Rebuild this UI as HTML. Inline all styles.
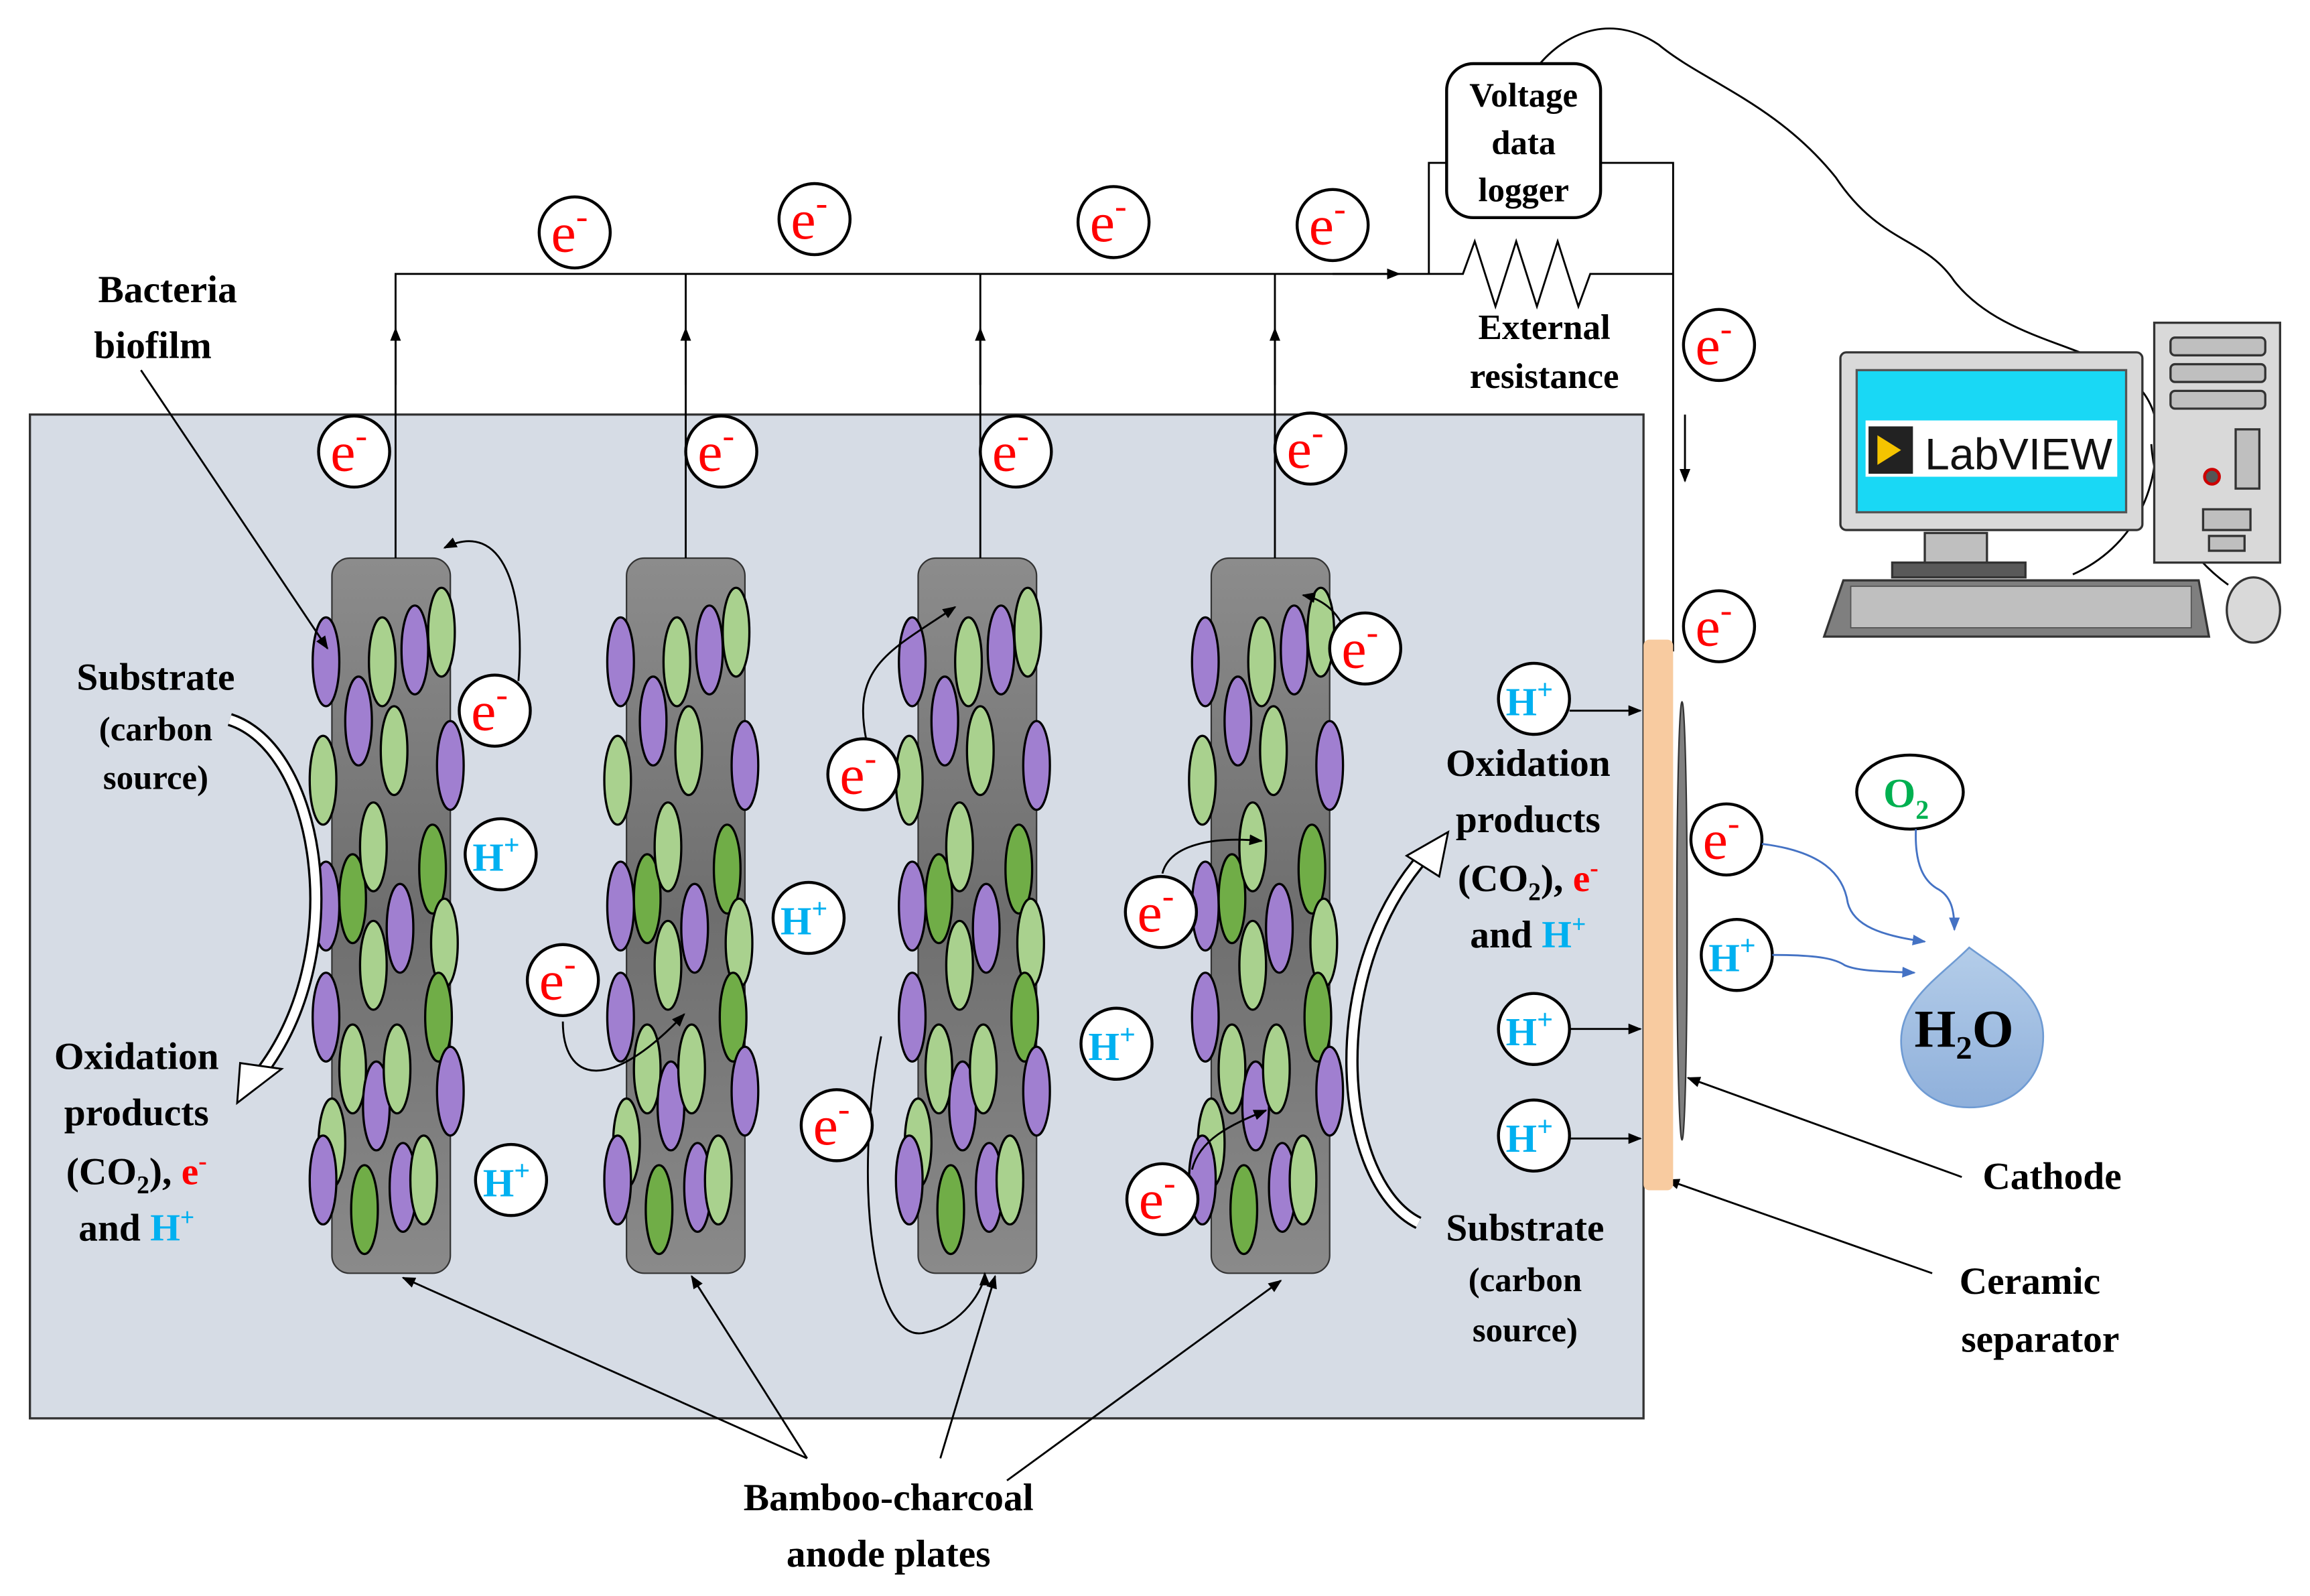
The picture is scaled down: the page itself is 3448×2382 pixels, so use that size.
<!DOCTYPE html>
<html><head><meta charset="utf-8"><style>
html,body{margin:0;padding:0;background:#fff}
svg{display:block}
text{font-family:"Liberation Serif",serif;font-weight:bold}
text.n{font-weight:normal}
text.s{font-family:"Liberation Sans",sans-serif;font-weight:normal}
</style></head><body>
<svg width="3448" height="2382" viewBox="0 0 1560 1078" xmlns="http://www.w3.org/2000/svg">
<defs>
<marker id="ah" viewBox="0 0 10 10" refX="9" refY="5" markerWidth="7" markerHeight="7" orient="auto-start-reverse"><path d="M0,1 L10,5 L0,9 z" fill="#000"/></marker>
<marker id="bh" viewBox="0 0 10 10" refX="9" refY="5" markerWidth="7" markerHeight="7" orient="auto"><path d="M0,1 L10,5 L0,9 z" fill="#4472c4"/></marker>
<linearGradient id="pg" x1="0" y1="0" x2="0" y2="1"><stop offset="0" stop-color="#8c8c8c"/><stop offset="0.5" stop-color="#6e6e6e"/><stop offset="1" stop-color="#8a8a8a"/></linearGradient>
<linearGradient id="dg" x1="0" y1="0" x2="0" y2="1"><stop offset="0" stop-color="#b4cde9"/><stop offset="1" stop-color="#8fb0db"/></linearGradient>
<g id="ell" stroke="#000" stroke-width="1.5">
<ellipse cx="-4" cy="70" rx="9" ry="30" fill="#a07fd0"/>
<ellipse cx="-6" cy="150" rx="9" ry="30" fill="#a9d18e"/>
<ellipse cx="-4" cy="235" rx="9" ry="30" fill="#a07fd0"/>
<ellipse cx="-4" cy="310" rx="9" ry="30" fill="#a07fd0"/>
<ellipse cx="0" cy="395" rx="9" ry="30" fill="#a9d18e"/>
<ellipse cx="-6" cy="420" rx="9" ry="30" fill="#a07fd0"/>
<ellipse cx="14" cy="230" rx="9" ry="30" fill="#70ad47"/>
<ellipse cx="18" cy="110" rx="9" ry="30" fill="#a07fd0"/>
<ellipse cx="14" cy="345" rx="9" ry="30" fill="#a9d18e"/>
<ellipse cx="22" cy="440" rx="9" ry="30" fill="#70ad47"/>
<ellipse cx="34" cy="70" rx="9" ry="30" fill="#a9d18e"/>
<ellipse cx="28" cy="195" rx="9" ry="30" fill="#a9d18e"/>
<ellipse cx="28" cy="275" rx="9" ry="30" fill="#a9d18e"/>
<ellipse cx="30" cy="370" rx="9" ry="30" fill="#a07fd0"/>
<ellipse cx="42" cy="130" rx="9" ry="30" fill="#a9d18e"/>
<ellipse cx="46" cy="250" rx="9" ry="30" fill="#a07fd0"/>
<ellipse cx="44" cy="345" rx="9" ry="30" fill="#a9d18e"/>
<ellipse cx="48" cy="425" rx="9" ry="30" fill="#a07fd0"/>
<ellipse cx="56" cy="62" rx="9" ry="30" fill="#a07fd0"/>
<ellipse cx="68" cy="210" rx="9" ry="30" fill="#70ad47"/>
<ellipse cx="62" cy="420" rx="9" ry="30" fill="#a9d18e"/>
<ellipse cx="74" cy="50" rx="9" ry="30" fill="#a9d18e"/>
<ellipse cx="80" cy="140" rx="9" ry="30" fill="#a07fd0"/>
<ellipse cx="76" cy="260" rx="9" ry="30" fill="#a9d18e"/>
<ellipse cx="72" cy="310" rx="9" ry="30" fill="#70ad47"/>
<ellipse cx="80" cy="360" rx="9" ry="30" fill="#a07fd0"/>
</g>
<g id="plate">
<rect x="0" y="0" width="80" height="483" rx="12" fill="url(#pg)" stroke="#333" stroke-width="1"/>
<use href="#ell"/>
</g>
</defs>

<rect x="20" y="280" width="1090" height="678" fill="#d6dce5" stroke="#333" stroke-width="1.5"/>

<use href="#plate" x="224" y="377"/>
<use href="#plate" x="423" y="377"/>
<use href="#plate" x="620" y="377"/>
<use href="#plate" x="818" y="377"/>

<g stroke="#000" stroke-width="1.3" fill="none">
<path d="M267,377 V185 H966"/>
<path d="M463,377 V185 M662,377 V185 M861,377 V185"/>
<path d="M267,260 V222" marker-end="url(#ah)"/>
<path d="M463,260 V222" marker-end="url(#ah)"/>
<path d="M662,260 V222" marker-end="url(#ah)"/>
<path d="M861,260 V222" marker-end="url(#ah)"/>
<path d="M900,185 H945" marker-end="url(#ah)"/>
<path d="M965,185 V110 H977 M1081,110 H1130 V440"/>
<path d="M966,185 H988 L996,163 L1010,207 L1024,163 L1038,207 L1052,163 L1066,207 L1074,185 H1130"/>
<path d="M1138,280 V325" marker-end="url(#ah)"/>
<path d="M1040,43 C1060,20 1090,10 1120,30 C1150,55 1200,70 1240,120 C1270,165 1300,160 1320,190 C1360,240 1440,230 1455,280 C1462,330 1440,370 1400,388"/>
<path d="M1453,300 C1455,330 1470,370 1505,395"/>
<path d="M350,460 C355,400 340,350 300,370" marker-end="url(#ah)"/>
<path d="M585,500 C575,450 600,440 645,410" marker-end="url(#ah)"/>
<path d="M380,690 C380,730 410,740 462,685" marker-end="url(#ah)"/>
<path d="M785,590 C790,570 820,565 852,568" marker-end="url(#ah)"/>
<path d="M910,430 C905,415 895,405 880,402" marker-end="url(#ah)"/>
<path d="M595,700 C575,800 590,910 625,900 C650,895 665,870 665,860" marker-end="url(#ah)"/>
<path d="M805,790 C810,770 830,760 855,750" marker-end="url(#ah)"/>
<path d="M1060,480 H1108" marker-end="url(#ah)"/>
<path d="M1060,695 H1108" marker-end="url(#ah)"/>
<path d="M1060,769 H1108" marker-end="url(#ah)"/>
<path d="M95,250 L221,438" marker-end="url(#ah)"/>
<path d="M545,985 L272,863" marker-end="url(#ah)"/>
<path d="M545,985 L467,862" marker-end="url(#ah)"/>
<path d="M635,985 L672,862" marker-end="url(#ah)"/>
<path d="M680,1000 L865,865" marker-end="url(#ah)"/>
<path d="M1325,795 L1140,728" marker-end="url(#ah)"/>
<path d="M1305,860 L1126,797" marker-end="url(#ah)"/>
</g>

<!-- white curved arrows -->
<path d="M155,486 C215,505 238,640 178,722" fill="none" stroke="#000" stroke-width="9"/>
<path d="M155,486 C215,505 238,640 178,722" fill="none" stroke="#fff" stroke-width="6"/>
<path d="M162,718 L190,722 L160,745 Z" fill="#fff" stroke="#000" stroke-width="1.3"/>
<path d="M958,826 C905,800 890,660 962,578" fill="none" stroke="#000" stroke-width="9"/>
<path d="M958,826 C905,800 890,660 962,578" fill="none" stroke="#fff" stroke-width="6"/>
<path d="M950,578 L978,562 L972,592 Z" fill="#fff" stroke="#000" stroke-width="1.3"/>

<rect x="1110" y="432" width="20" height="372" rx="4" fill="#f8cba0"/>
<ellipse cx="1136" cy="622" rx="3.5" ry="148" fill="#7f7f7f" stroke="#333" stroke-width="1"/>

<rect x="977" y="43" width="104" height="104" rx="18" fill="#fff" stroke="#000" stroke-width="2"/>
<text x="1029" y="72" font-size="23" text-anchor="middle">Voltage</text>
<text x="1029" y="104" font-size="23" text-anchor="middle">data</text>
<text x="1029" y="136" font-size="23" text-anchor="middle">logger</text>
<text x="1043" y="229" font-size="24" text-anchor="middle">External</text>
<text x="1043" y="262" font-size="24" text-anchor="middle">resistance</text>

<g fill="#fff" stroke="#000" stroke-width="2">
<circle cx="388" cy="157" r="24"/><circle cx="550" cy="148" r="24"/><circle cx="752" cy="150" r="24"/><circle cx="900" cy="152" r="24"/>
<circle cx="239" cy="305" r="24"/><circle cx="487" cy="305" r="24"/><circle cx="686" cy="305" r="24"/><circle cx="885" cy="303" r="24"/>
<circle cx="1161" cy="233" r="24"/><circle cx="1161" cy="423" r="24"/><circle cx="334" cy="480" r="24"/><circle cx="922" cy="438" r="24"/>
<circle cx="583" cy="523" r="24"/><circle cx="380" cy="662" r="24"/><circle cx="784" cy="616" r="24"/><circle cx="565" cy="760" r="24"/>
<circle cx="785" cy="810" r="24"/><circle cx="1166" cy="567" r="24"/>
<circle cx="338" cy="577" r="24"/><circle cx="546" cy="620" r="24"/><circle cx="754" cy="705" r="24"/><circle cx="345" cy="797" r="24"/>
<circle cx="1036" cy="472" r="24"/><circle cx="1036" cy="695" r="24"/><circle cx="1036" cy="767" r="24"/><circle cx="1173" cy="645" r="24"/>
<ellipse cx="1290" cy="535" rx="36" ry="25"/>
</g>
<g fill="#f00" font-size="38">
<text class="n" x="372" y="170">e<tspan font-size="24" dy="-16">-</tspan></text>
<text class="n" x="534" y="161">e<tspan font-size="24" dy="-16">-</tspan></text>
<text class="n" x="736" y="163">e<tspan font-size="24" dy="-16">-</tspan></text>
<text class="n" x="884" y="165">e<tspan font-size="24" dy="-16">-</tspan></text>
<text class="n" x="223" y="318">e<tspan font-size="24" dy="-16">-</tspan></text>
<text class="n" x="471" y="318">e<tspan font-size="24" dy="-16">-</tspan></text>
<text class="n" x="670" y="318">e<tspan font-size="24" dy="-16">-</tspan></text>
<text class="n" x="869" y="316">e<tspan font-size="24" dy="-16">-</tspan></text>
<text class="n" x="1145" y="246">e<tspan font-size="24" dy="-16">-</tspan></text>
<text class="n" x="1145" y="436">e<tspan font-size="24" dy="-16">-</tspan></text>
<text class="n" x="318" y="493">e<tspan font-size="24" dy="-16">-</tspan></text>
<text class="n" x="906" y="451">e<tspan font-size="24" dy="-16">-</tspan></text>
<text class="n" x="567" y="536">e<tspan font-size="24" dy="-16">-</tspan></text>
<text class="n" x="364" y="675">e<tspan font-size="24" dy="-16">-</tspan></text>
<text class="n" x="768" y="629">e<tspan font-size="24" dy="-16">-</tspan></text>
<text class="n" x="549" y="773">e<tspan font-size="24" dy="-16">-</tspan></text>
<text class="n" x="769" y="823">e<tspan font-size="24" dy="-16">-</tspan></text>
<text class="n" x="1150" y="580">e<tspan font-size="24" dy="-16">-</tspan></text>
</g>
<g fill="#00b0f0" font-size="27">
<text x="319" y="588">H<tspan font-size="19" dy="-11">+</tspan></text>
<text x="527" y="631">H<tspan font-size="19" dy="-11">+</tspan></text>
<text x="735" y="716">H<tspan font-size="19" dy="-11">+</tspan></text>
<text x="326" y="808">H<tspan font-size="19" dy="-11">+</tspan></text>
<text x="1017" y="483">H<tspan font-size="19" dy="-11">+</tspan></text>
<text x="1017" y="706">H<tspan font-size="19" dy="-11">+</tspan></text>
<text x="1017" y="778">H<tspan font-size="19" dy="-11">+</tspan></text>
<text x="1154" y="656">H<tspan font-size="19" dy="-11">+</tspan></text>
</g>
<text x="1272" y="545" font-size="28" fill="#00b050">O<tspan font-size="18" dy="8">2</tspan></text>

<g stroke="#4472c4" stroke-width="1.3" fill="none">
<path d="M1190,570 C1230,575 1245,590 1248,610 C1252,625 1270,632 1300,636" marker-end="url(#bh)"/>
<path d="M1197,645 C1230,645 1240,648 1246,652 C1255,656 1270,656 1293,657" marker-end="url(#bh)"/>
<path d="M1294,560 C1293,585 1300,595 1308,600 C1318,605 1320,615 1320,628" marker-end="url(#bh)"/>
</g>
<path d="M1330,640 C1350,655 1380,670 1380,700 C1380,730 1358,748 1330,748 C1302,748 1284,728 1284,703 C1284,675 1310,660 1330,640 Z" fill="url(#dg)" stroke="#6f9bd3" stroke-width="1.2"/>
<text x="1293" y="707" font-size="36">H<tspan font-size="22" dy="8">2</tspan><tspan dy="-8">O</tspan></text>

<g stroke="#333" stroke-width="1.5">
<rect x="1455" y="218" width="85" height="162" fill="#d9d9d9"/>
<rect x="1466" y="228" width="64" height="12" rx="3" fill="#bfbfbf"/>
<rect x="1466" y="246" width="64" height="12" rx="3" fill="#bfbfbf"/>
<rect x="1466" y="264" width="64" height="12" rx="3" fill="#bfbfbf"/>
<rect x="1510" y="290" width="16" height="40" fill="#bfbfbf"/>
<circle cx="1494" cy="322" r="5" fill="#555" stroke="#c00" stroke-width="2"/>
<rect x="1488" y="344" width="32" height="14" fill="#bfbfbf"/>
<rect x="1492" y="362" width="24" height="10" fill="#bfbfbf"/>
<rect x="1243" y="238" width="204" height="120" rx="4" fill="#d9d9d9"/>
<rect x="1254" y="250" width="182" height="96" fill="#19d8f5" stroke="#555"/>
<rect x="1300" y="360" width="42" height="22" fill="#bfbfbf"/>
<rect x="1278" y="380" width="90" height="10" fill="#595959"/>
<path d="M1245,392 H1485 L1492,430 H1232 Z" fill="#7f7f7f"/>
<rect x="1250" y="396" width="230" height="28" fill="#bfbfbf" stroke="#555" stroke-width="0.8"/>
<ellipse cx="1522" cy="412" rx="18" ry="22" fill="#d9d9d9"/>
</g>
<rect x="1260" y="284" width="170" height="38" fill="#fff"/>
<rect x="1262" y="288" width="30" height="32" fill="#222"/>
<path d="M1268,294 L1284,304 L1268,314 Z" fill="#f5c400"/>
<text class="s" x="1300" y="317" font-size="30" fill="#111">LabVIEW</text>

<g font-size="26" text-anchor="middle" fill="#000">
<text x="113" y="204">Bacteria</text>
<text x="103" y="242">biofilm</text>
<text x="105" y="466">Substrate</text>
<text x="105" y="500" font-size="23">(carbon</text>
<text x="105" y="533" font-size="23">source)</text>
<text x="92" y="722">Oxidation</text>
<text x="92" y="760">products</text>
<text x="92" y="800">(CO<tspan font-size="17" dy="6">2</tspan><tspan dy="-6">),</tspan> <tspan fill="#f00">e<tspan font-size="17" dy="-10">-</tspan></tspan></text>
<text x="92" y="838">and <tspan fill="#00b0f0">H<tspan font-size="17" dy="-10">+</tspan></tspan></text>
<text x="1032" y="524">Oxidation</text>
<text x="1032" y="562">products</text>
<text x="1032" y="602">(CO<tspan font-size="17" dy="6">2</tspan><tspan dy="-6">),</tspan> <tspan fill="#f00">e<tspan font-size="17" dy="-10">-</tspan></tspan></text>
<text x="1032" y="640">and <tspan fill="#00b0f0">H<tspan font-size="17" dy="-10">+</tspan></tspan></text>
<text x="1030" y="838">Substrate</text>
<text x="1030" y="872" font-size="23">(carbon</text>
<text x="1030" y="906" font-size="23">source)</text>
<text x="1386" y="803">Cathode</text>
<text x="1371" y="874">Ceramic</text>
<text x="1378" y="913">separator</text>
<text x="600" y="1020">Bamboo-charcoal</text>
<text x="600" y="1058">anode plates</text>
</g>
</svg>
</body></html>
